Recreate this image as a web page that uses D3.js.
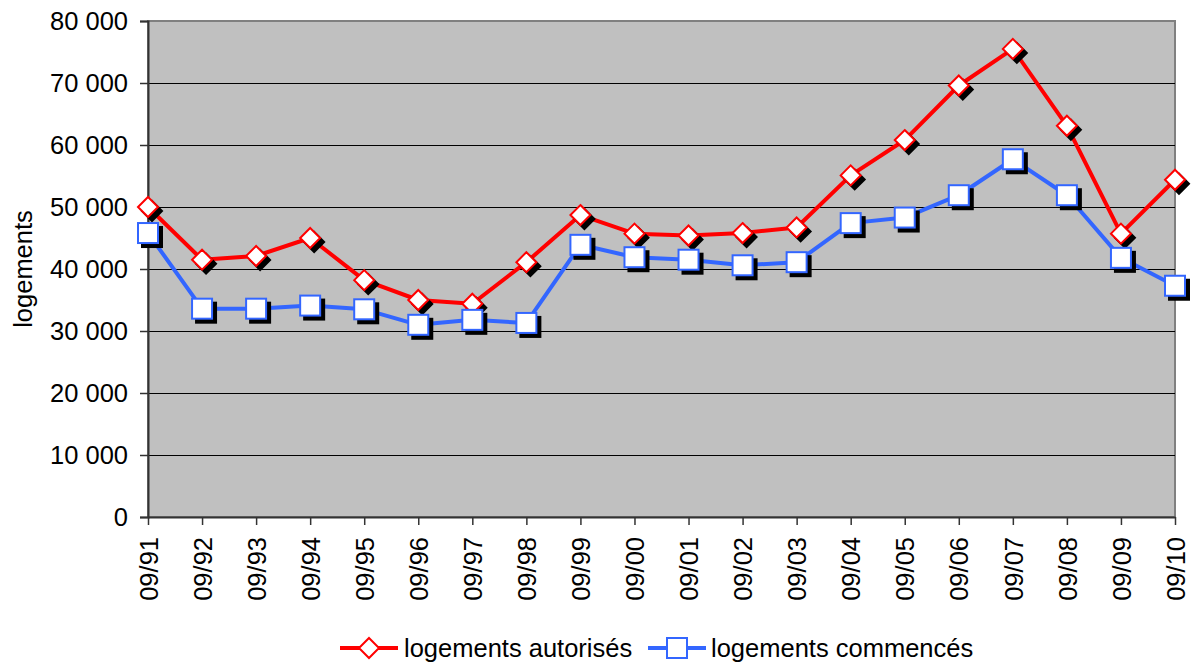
<!DOCTYPE html>
<html>
<head>
<meta charset="utf-8">
<script src="https://cdn.jsdelivr.net/npm/d3@7"></script>
<style>
  body { margin: 0; background: #fff; }
  svg { font-family: Arial, "Liberation Sans", sans-serif; }
</style>
</head>
<body>
<svg id="chart" width="1192" height="664"></svg>
<script>
const periods = ['09/91','09/92','09/93','09/94','09/95','09/96','09/97','09/98','09/99','09/00',
  '09/01','09/02','09/03','09/04','09/05','09/06','09/07','09/08','09/09','09/10'];
const autorises = [50000, 41500, 42100, 45000, 38200, 35000, 34400, 41100, 48700, 45700,
  45400, 45800, 46700, 55100, 60800, 69600, 75500, 63100, 45700, 54400];
const commences = [45800, 33600, 33600, 34100, 33500, 31000, 31800, 31300, 43900, 41900,
  41500, 40600, 41100, 47400, 48300, 51900, 57700, 51900, 41800, 37300];
const yTicks = [0, 10000, 20000, 30000, 40000, 50000, 60000, 70000, 80000];

const svg = d3.select('#chart');
const plotLeft = 148, plotRight = 1175, plotTop = 21, plotBottom = 517;
const fontSize = 25.5;

const x = d3.scalePoint().domain(periods).range([plotLeft, plotRight]);
const y = d3.scaleLinear().domain([0, 80000]).range([plotBottom, plotTop]);
const fmt = v => d3.format(',')(v).replace(/,/g, ' ');

// plot background
svg.append('rect')
  .attr('x', plotLeft).attr('y', plotTop)
  .attr('width', plotRight - plotLeft).attr('height', plotBottom - plotTop)
  .attr('fill', '#c0c0c0')
  .attr('stroke', '#808080').attr('stroke-width', 2);

// gridlines
svg.append('g').selectAll('line')
  .data(yTicks.filter(d => d > 0 && d < 80000))
  .join('line')
  .attr('x1', plotLeft).attr('x2', plotRight)
  .attr('y1', d => y(d)).attr('y2', d => y(d))
  .attr('stroke', '#000').attr('stroke-width', 1)
  .attr('shape-rendering', 'crispEdges');

// y axis
const yAxis = svg.append('g')
  .attr('transform', `translate(${plotLeft},0)`)
  .call(d3.axisLeft(y).tickValues(yTicks).tickFormat(fmt).tickSize(8).tickPadding(12));
yAxis.select('.domain').attr('stroke', '#333').attr('stroke-width', 2);
yAxis.selectAll('.tick line').attr('stroke', '#333').attr('stroke-width', 1.5);
yAxis.selectAll('text').attr('font-size', fontSize).attr('fill', '#000')
  .attr('font-family', 'Arial, "Liberation Sans", sans-serif');

// x axis
const xAxis = svg.append('g')
  .attr('transform', `translate(0,${plotBottom})`)
  .call(d3.axisBottom(x).tickSize(8).tickSizeOuter(0).tickPadding(0));
xAxis.select('.domain').attr('stroke', '#333').attr('stroke-width', 2);
xAxis.selectAll('.tick line').attr('stroke', '#333').attr('stroke-width', 1.5);
xAxis.selectAll('text')
  .attr('font-size', fontSize).attr('fill', '#000')
  .attr('font-family', 'Arial, "Liberation Sans", sans-serif')
  .attr('transform', 'rotate(-90)')
  .attr('text-anchor', 'end')
  .attr('x', -20).attr('y', 0).attr('dy', '0.36em');

// y title
svg.append('text')
  .attr('transform', `translate(32,${(plotTop + plotBottom) / 2}) rotate(-90)`)
  .attr('text-anchor', 'middle')
  .attr('font-size', fontSize)
  .text('logements');

const series = [
  { name: 'logements autorisés', values: autorises, color: '#ff0000', shape: 'diamond' },
  { name: 'logements commencés', values: commences, color: '#3366ff', shape: 'square' }
];

const line = d3.line().x((d, i) => x(periods[i])).y(d => y(d));

function marker(g, shape, color, shadow) {
  if (shape === 'diamond') {
    g.append('path').attr('d', 'M0,-10L10,0L0,10L-10,0Z')
      .attr('fill', shadow ? '#000' : '#fff')
      .attr('stroke', shadow ? '#000' : color).attr('stroke-width', 2);
  } else {
    g.append('rect').attr('x', -10).attr('y', -10).attr('width', 20).attr('height', 20)
      .attr('fill', shadow ? '#000' : '#fff')
      .attr('stroke', shadow ? '#000' : color).attr('stroke-width', 2);
  }
}

series.forEach(s => {
  svg.append('path')
    .datum(s.values)
    .attr('d', line)
    .attr('fill', 'none')
    .attr('stroke', s.color)
    .attr('stroke-width', 4)
    .attr('stroke-linejoin', 'round');

  const pts = svg.append('g').selectAll('g')
    .data(s.values)
    .join('g');
  pts.each(function(d, i) {
    const g = d3.select(this);
    const sh = g.append('g').attr('transform', `translate(${x(periods[i]) + 4},${y(d) + 4})`);
    marker(sh, s.shape, s.color, true);
    const m = g.append('g').attr('transform', `translate(${x(periods[i])},${y(d)})`);
    marker(m, s.shape, s.color, false);
  });
});

// legend
const legendPos = [{ lx: 340, tx: 404 }, { lx: 648, tx: 711 }];
series.forEach((s, i) => {
  const p = legendPos[i];
  const g = svg.append('g').attr('transform', `translate(${p.lx},648)`);
  g.append('line').attr('x1', 0).attr('x2', 58).attr('y1', 0).attr('y2', 0)
    .attr('stroke', s.color).attr('stroke-width', 4);
  const m = g.append('g').attr('transform', 'translate(29,0)');
  marker(m, s.shape, s.color, false);
  svg.append('text')
    .attr('x', p.tx).attr('y', 657)
    .attr('font-size', fontSize)
    .text(s.name);
});
</script>
</body>
</html>
